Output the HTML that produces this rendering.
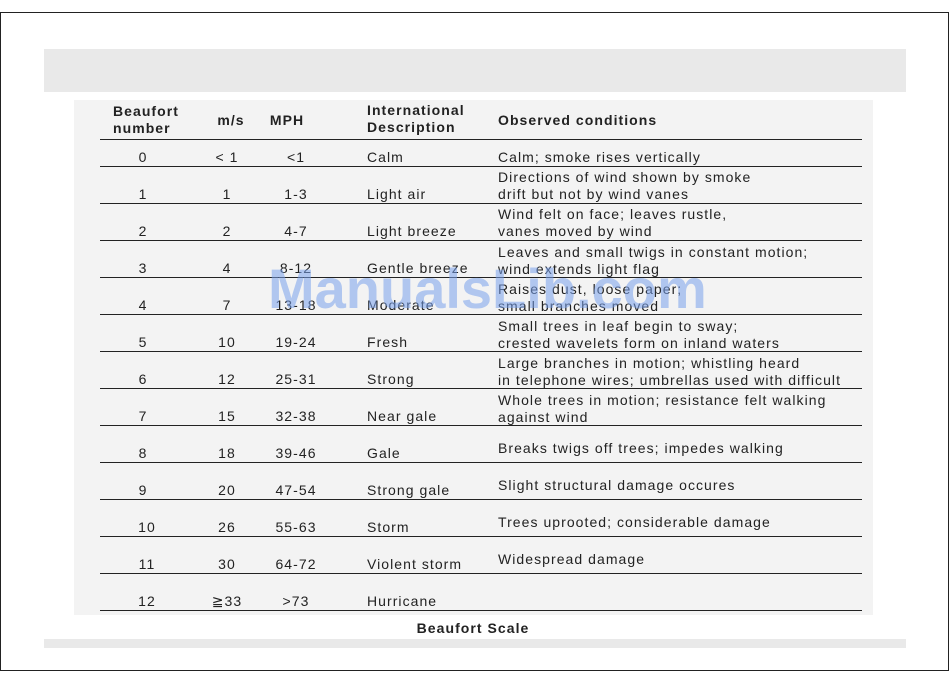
<!DOCTYPE html>
<html><head><meta charset="utf-8"><style>
body{margin:0;width:950px;height:682px;background:#fff;position:relative;overflow:hidden;font-family:"Liberation Sans","DejaVu Sans",sans-serif;color:#222;}
.a{position:absolute;white-space:nowrap;font-size:14px;letter-spacing:1.05px;line-height:16px;}
.c{transform:translateX(-50%);}
.h{font-weight:bold;}
.ln{position:absolute;left:100px;width:762px;height:1px;background:#222;}
</style></head><body>
<div style="position:absolute;left:0;top:12px;width:947px;height:657px;border:1px solid #222;"></div>
<div style="position:absolute;left:44px;top:49px;width:862px;height:43px;background:#e9e9e9;"></div>
<div style="position:absolute;left:74px;top:100px;width:799px;height:515px;background:#f3f3f3;"></div>
<div style="position:absolute;left:44px;top:639px;width:862px;height:9px;background:#e9e9e9;"></div>

<div class="a h" style="left:113px;top:103px">Beaufort</div>
<div class="a h" style="left:113px;top:120px">number</div>
<div class="a h c" style="left:231px;top:112px">m/s</div>
<div class="a h c" style="left:287px;top:112px">MPH</div>
<div class="a h" style="left:367px;top:102px">International</div>
<div class="a h" style="left:367px;top:119px">Description</div>
<div class="a h" style="left:498px;top:112px">Observed conditions</div>

<div class="ln" style="top:139px"></div>
<div class="ln" style="top:166px"></div>
<div class="ln" style="top:203px"></div>
<div class="ln" style="top:240px"></div>
<div class="ln" style="top:277px"></div>
<div class="ln" style="top:314px"></div>
<div class="ln" style="top:351px"></div>
<div class="ln" style="top:388px"></div>
<div class="ln" style="top:425px"></div>
<div class="ln" style="top:462px"></div>
<div class="ln" style="top:499px"></div>
<div class="ln" style="top:536px"></div>
<div class="ln" style="top:573px"></div>
<div class="ln" style="top:610px"></div>

<div class="a c" style="left:143px;top:149px">0</div>
<div class="a c" style="left:227px;top:149px">&lt; 1</div>
<div class="a c" style="left:296px;top:149px">&lt;1</div>
<div class="a" style="left:367px;top:149px">Calm</div>
<div class="a" style="left:498px;top:149px">Calm; smoke rises vertically</div>

<div class="a c" style="left:143px;top:186px">1</div><div class="a c" style="left:227px;top:186px">1</div><div class="a c" style="left:296px;top:186px">1-3</div><div class="a" style="left:367px;top:186px">Light air</div>
<div class="a" style="left:498px;top:169px">Directions of wind shown by smoke</div><div class="a" style="left:498px;top:186px">drift but not by wind vanes</div>

<div class="a c" style="left:143px;top:223px">2</div><div class="a c" style="left:227px;top:223px">2</div><div class="a c" style="left:296px;top:223px">4-7</div><div class="a" style="left:367px;top:223px">Light breeze</div>
<div class="a" style="left:498px;top:206px">Wind felt on face; leaves rustle,</div><div class="a" style="left:498px;top:223px">vanes moved by wind</div>

<div class="a c" style="left:143px;top:260px">3</div><div class="a c" style="left:227px;top:260px">4</div><div class="a c" style="left:296px;top:260px">8-12</div><div class="a" style="left:367px;top:260px">Gentle breeze</div>
<div class="a" style="left:498px;top:244px">Leaves and small twigs in constant motion;</div><div class="a" style="left:498px;top:261px">wind extends light flag</div>

<div class="a c" style="left:143px;top:297px">4</div><div class="a c" style="left:227px;top:297px">7</div><div class="a c" style="left:296px;top:297px">13-18</div><div class="a" style="left:367px;top:297px">Moderate</div>
<div class="a" style="left:498px;top:281px">Raises dust, loose paper;</div><div class="a" style="left:498px;top:298px">small branches moved</div>

<div class="a c" style="left:143px;top:334px">5</div><div class="a c" style="left:227px;top:334px">10</div><div class="a c" style="left:296px;top:334px">19-24</div><div class="a" style="left:367px;top:334px">Fresh</div>
<div class="a" style="left:498px;top:318px">Small trees in leaf begin to sway;</div><div class="a" style="left:498px;top:335px">crested wavelets form on inland waters</div>

<div class="a c" style="left:143px;top:371px">6</div><div class="a c" style="left:227px;top:371px">12</div><div class="a c" style="left:296px;top:371px">25-31</div><div class="a" style="left:367px;top:371px">Strong</div>
<div class="a" style="left:498px;top:355px">Large branches in motion; whistling heard</div><div class="a" style="left:498px;top:372px">in telephone wires; umbrellas used with difficult</div>

<div class="a c" style="left:143px;top:408px">7</div><div class="a c" style="left:227px;top:408px">15</div><div class="a c" style="left:296px;top:408px">32-38</div><div class="a" style="left:367px;top:408px">Near gale</div>
<div class="a" style="left:498px;top:392px">Whole trees in motion; resistance felt walking</div><div class="a" style="left:498px;top:409px">against wind</div>

<div class="a c" style="left:143px;top:445px">8</div><div class="a c" style="left:227px;top:445px">18</div><div class="a c" style="left:296px;top:445px">39-46</div><div class="a" style="left:367px;top:445px">Gale</div>
<div class="a" style="left:498px;top:440px">Breaks twigs off trees; impedes walking</div>

<div class="a c" style="left:143px;top:482px">9</div><div class="a c" style="left:227px;top:482px">20</div><div class="a c" style="left:296px;top:482px">47-54</div><div class="a" style="left:367px;top:482px">Strong gale</div>
<div class="a" style="left:498px;top:477px">Slight structural damage occures</div>

<div class="a c" style="left:147px;top:519px">10</div><div class="a c" style="left:227px;top:519px">26</div><div class="a c" style="left:296px;top:519px">55-63</div><div class="a" style="left:367px;top:519px">Storm</div>
<div class="a" style="left:498px;top:514px">Trees uprooted; considerable damage</div>

<div class="a c" style="left:147px;top:556px">11</div><div class="a c" style="left:227px;top:556px">30</div><div class="a c" style="left:296px;top:556px">64-72</div><div class="a" style="left:367px;top:556px">Violent storm</div>
<div class="a" style="left:498px;top:551px">Widespread damage</div>

<div class="a c" style="left:147px;top:593px">12</div><div class="a c" style="left:227px;top:593px">≧33</div><div class="a c" style="left:296px;top:593px">&gt;73</div><div class="a" style="left:367px;top:593px">Hurricane</div>

<div class="a h c" style="left:473px;top:620px">Beaufort Scale</div>

<div style="position:absolute;left:268px;top:258px;font-size:56px;font-weight:bold;color:rgba(120,160,235,0.55);white-space:nowrap;line-height:62px;letter-spacing:0px;">ManualsLib.com</div>
</body></html>
